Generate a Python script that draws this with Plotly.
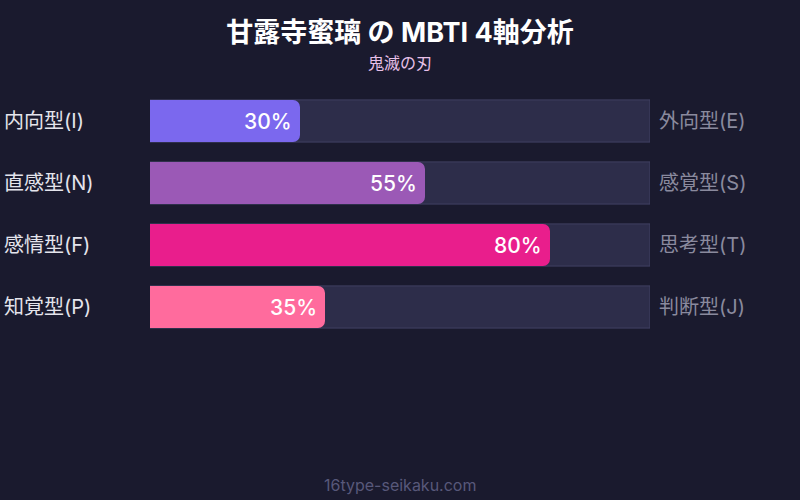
import plotly.graph_objects as go

# MBTI axes, top to bottom
left_labels = ["内向型(I)", "直感型(N)", "感情型(F)", "知覚型(P)"]
right_labels = ["外向型(E)", "感覚型(S)", "思考型(T)", "判断型(J)"]
values = [30, 55, 80, 35]
colors = ["#7b68ee", "#9b59b6", "#e91e8c", "#ff6b9d"]

FONT = "Inter, Noto Sans CJK JP, sans-serif"
BG = "#1a1a2e"

fig = go.Figure()

# track behind each bar
fig.add_trace(go.Bar(
    y=left_labels, x=[100] * len(values), orientation="h",
    marker=dict(color="#2d2d4a", line=dict(color="#404062", width=1), cornerradius=0),
    width=0.68, hoverinfo="skip", showlegend=False,
))

# value bars on an overlaid axis so each gets its own rounded end
fig.add_trace(go.Bar(
    y=left_labels, x=values, orientation="h", yaxis="y2",
    marker=dict(color=colors, line=dict(width=0), cornerradius=7),
    width=0.68, hoverinfo="skip", showlegend=False,
))

annotations = []
for lab, rlab, v in zip(left_labels, right_labels, values):
    annotations.append(dict(
        x=v, y=lab, xref="x", yref="y", text=f"{v}%", showarrow=False,
        xanchor="right", xshift=-6,
        font=dict(size=21, color="white", family=FONT, weight=500),
    ))
    annotations.append(dict(
        x=-0.296, y=lab, xref="paper", yref="y", text=lab, showarrow=False,
        xanchor="left", font=dict(size=20, color="#e4e4ec", family=FONT),
    ))
    annotations.append(dict(
        x=1.014, y=lab, xref="paper", yref="y", text=rlab, showarrow=False,
        xanchor="left", font=dict(size=20, color="#8a8a9e", family=FONT),
    ))

annotations.append(dict(
    x=0.5, y=(338 - 63) / 248, xref="paper", yref="paper", text="鬼滅の刃",
    showarrow=False, yanchor="middle", font=dict(size=16, color="#e8c0e8", family=FONT),
))
annotations.append(dict(
    x=0.5, y=(338 - 485) / 248, xref="paper", yref="paper", text="16type-seikaku.com",
    showarrow=False, yanchor="middle", font=dict(size=16, color="#58587a", family=FONT),
))

fig.update_layout(
    width=800, height=500,
    paper_bgcolor=BG, plot_bgcolor=BG,
    margin=dict(l=150, r=150, t=90, b=162),
    barmode="overlay",
    title=dict(
        text="<b>甘露寺蜜璃 の MBTI 4軸分析</b>", x=0.5, xanchor="center",
        y=1 - 33 / 500, yanchor="middle", yref="container",
        font=dict(size=27, color="white", family=FONT),
    ),
    xaxis=dict(range=[0, 100], visible=False, fixedrange=True),
    yaxis=dict(autorange="reversed", visible=False, fixedrange=True),
    yaxis2=dict(overlaying="y", autorange="reversed", visible=False, fixedrange=True,
                categoryorder="array", categoryarray=left_labels),
    annotations=annotations,
)

fig.write_html("out.html", config={"displayModeBar": False},
               post_script="document.body.style.margin='0';")
